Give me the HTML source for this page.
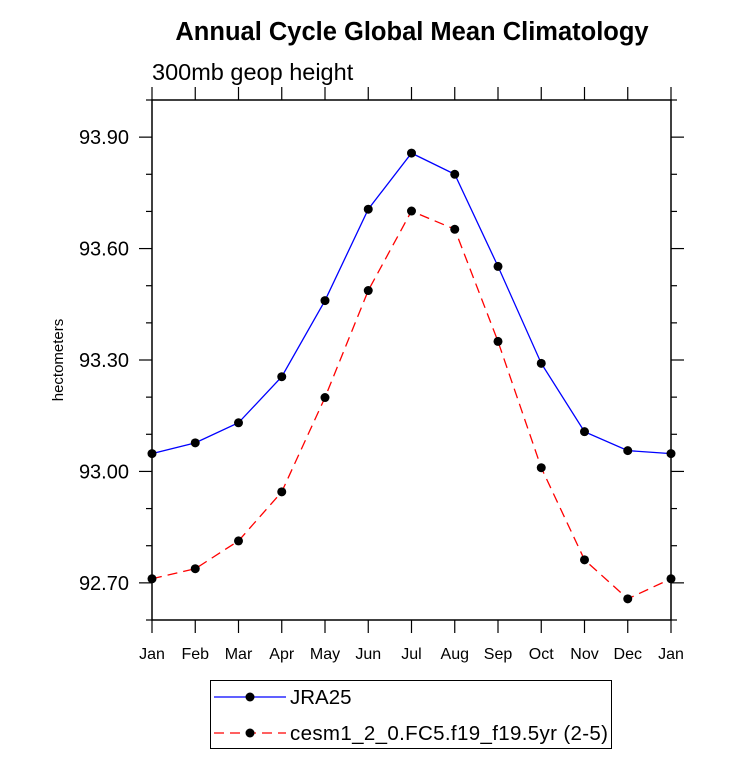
<!DOCTYPE html>
<html><head><meta charset="utf-8"><style>
body{margin:0;background:#fff;width:733px;height:770px;overflow:hidden}
text{font-family:"Liberation Sans",sans-serif}
</style></head><body>
<svg id="chart" width="733" height="770" xmlns="http://www.w3.org/2000/svg">
<text x="412" y="40" text-anchor="middle" font-size="25.5" font-weight="bold">Annual Cycle Global Mean Climatology</text>
<text x="152" y="80" font-size="23.5">300mb geop height</text>
<text transform="translate(63,360) rotate(-90)" text-anchor="middle" font-size="15">hectometers</text>
<g id="plot"></g>
<rect x="210.5" y="680.5" width="401" height="68" fill="none" stroke="#000" stroke-width="1"/>
<g>
<line x1="214" y1="697" x2="286" y2="697" stroke="#0000ff" stroke-width="1.3"/>
<circle cx="250" cy="697" r="4.5" fill="#000"/>
<text x="290" y="704" font-size="20.5">JRA25</text>
</g>
<g>
<line x1="214" y1="733" x2="286" y2="733" stroke="#ff0000" stroke-width="1.3" stroke-dasharray="10,6"/>
<circle cx="250" cy="733" r="4.5" fill="#000"/>
<text x="290" y="740" font-size="20.5" textLength="318">cesm1_2_0.FC5.f19_f19.5yr (2-5)</text>
</g>
</svg>
<script>
const months=["Jan","Feb","Mar","Apr","May","Jun","Jul","Aug","Sep","Oct","Nov","Dec","Jan"];
const jra25=[93.048,93.077,93.131,93.255,93.460,93.706,93.857,93.800,93.552,93.291,93.107,93.056,93.048];
const cesm=[92.711,92.738,92.813,92.945,93.199,93.487,93.701,93.652,93.350,93.010,92.762,92.657,92.711];
const yTicks=["92.70","93.00","93.30","93.60","93.90"];
const NS="http://www.w3.org/2000/svg";
const L=152,R=671,T=100,B=620,ymin=92.6,ymax=94.0;
const xs=i=>L+(R-L)*i/(months.length-1);
const ys=v=>B-(v-ymin)/(ymax-ymin)*(B-T);
const g=document.getElementById('plot');
function mk(tag,at){const e=document.createElementNS(NS,tag);for(const k in at)e.setAttribute(k,at[k]);g.appendChild(e);return e;}
const frame=mk('rect',{x:L,y:T,width:R-L,height:B-T,fill:'none',stroke:'#000','stroke-width':1.5});


for(let k=0;k<=14;k++){const v=ymin+k*0.1;const y=ys(v);
 const major=yTicks.some(t=>Math.abs(parseFloat(t)-v)<1e-6);const len=major?13:6;
 const a=mk('line',{x1:L-len,y1:y,x2:L,y2:y,stroke:'#000','stroke-width':1.2});
 
 
 const b=mk('line',{x1:R,y1:y,x2:R+len,y2:y,stroke:'#000','stroke-width':1.2});
 
 
}
yTicks.forEach(t=>{const tx=mk('text',{x:L-23,y:ys(parseFloat(t))+7,'text-anchor':'end','font-size':20});tx.textContent=t;
 
 });
months.forEach((m,i)=>{const x=xs(i);
 const a=mk('line',{x1:x,y1:B,x2:x,y2:B+13,stroke:'#000','stroke-width':1.2});
 
 
 const b=mk('line',{x1:x,y1:T-13,x2:x,y2:T,stroke:'#000','stroke-width':1.2});
 
 
 const tx=mk('text',{x:x,y:B+39,'text-anchor':'middle','font-size':16});tx.textContent=m;
 
 });
function series(vals,color,dash,name){
 const p=mk('polyline',{points:vals.map((v,i)=>xs(i)+','+ys(v)).join(' '),fill:'none',stroke:color,'stroke-width':1.3});
 if(dash)p.setAttribute('stroke-dasharray',dash);
 
 
 vals.forEach((v,i)=>{const c=mk('circle',{cx:xs(i),cy:ys(v),r:4.5,fill:'#000'});
  
  });
}
series(jra25,'#0000ff',null,'jra25');
series(cesm,'#ff0000','10,6','cesm');
</script>
</body></html>
